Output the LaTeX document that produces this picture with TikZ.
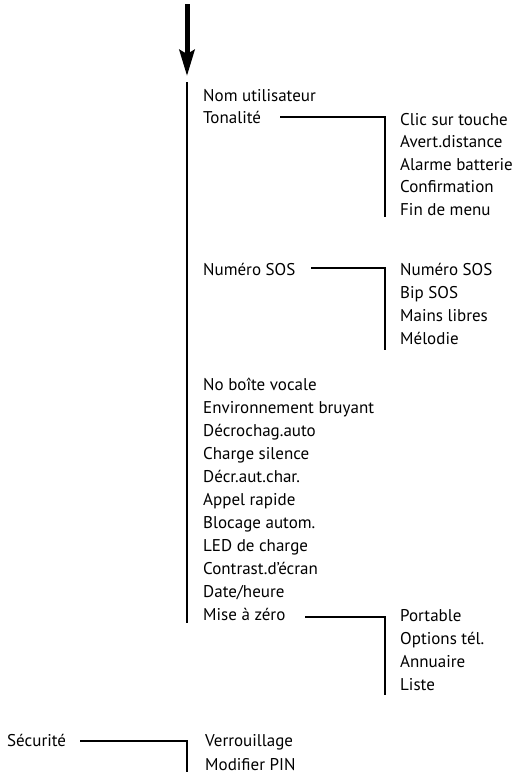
\documentclass[tikz,border=0pt]{standalone}
\usepackage{fontspec}
\setmainfont{PT Sans}
\usetikzlibrary{arrows.meta}
\begin{document}
\begin{tikzpicture}[x=1pt,y=-1pt,
  item/.style={anchor=west,inner sep=0pt,text height=11pt,text depth=3pt,
    font=\fontsize{17}{17}\selectfont},
  conn/.style={line width=1.3pt},
  spine/.style={line width=1.8pt}]
\useasboundingbox (0,0) rectangle (518,780);

% entry arrow
\coordinate (arrTop) at (187,4);
\coordinate (arrTip) at (187,76);
\draw[line width=5pt,-{Stealth[length=26pt,width=15pt,inset=4pt]}] (arrTop) -- (arrTip);

% main menu column
\node[item] (nom)  at (203,97)  {Nom utilisateur};
\node[item] (tona) at (203,119) {Tonalité};
\node[item] (sos)  at (203,271) {Numéro SOS};
\node[item] (vox)  at (203,386) {No boîte vocale};
\node[item] (env)  at (203,409) {Environnement bruyant};
\node[item] (dauto) at (203,432) {Décrochag.auto};
\node[item] (chs)  at (203,455) {Charge silence};
\node[item] (dac)  at (203,478) {Décr.aut.char.};
\node[item] (app)  at (203,501) {Appel rapide};
\node[item] (blo)  at (203,524) {Blocage autom.};
\node[item] (led)  at (203,547) {LED de charge};
\node[item] (con)  at (203,570) {Contrast.d'écran};
\node[item] (dat)  at (203,593) {Date/heure};
\node[item] (mise) at (203,616) {Mise à zéro};

\coordinate (spTop) at (187,82);
\coordinate (spBot) at (187,623);
\draw[spine] (spTop) -- (spBot);

% Tonalité submenu
\node[item] (clic) at (400,121) {Clic sur touche};
\node[item] (avd)  at (400,143.5) {Avert.distance};
\node[item] (alb)  at (400,166) {Alarme batterie};
\node[item] (cnf)  at (400,188.5) {Confirmation};
\node[item] (fin)  at (400,211) {Fin de menu};
\coordinate (tonaA) at (280,117);
\coordinate (tonaB) at (385,217);
\draw[conn] (tonaA) -| (tonaB);

% Numéro SOS submenu
\node[item] (sos2) at (400,271) {Numéro SOS};
\node[item] (bip)  at (400,294) {Bip SOS};
\node[item] (mlib) at (400,317) {Mains libres};
\node[item] (melo) at (400,340) {Mélodie};
\coordinate (sosA) at (311,268);
\coordinate (sosB) at (385,350);
\draw[conn] (sosA) -| (sosB);

% Mise à zéro submenu
\node[item] (port) at (400,617) {Portable};
\node[item] (opt)  at (400,640) {Options tél.};
\node[item] (ann)  at (400,663) {Annuaire};
\node[item] (lst)  at (400,686) {Liste};
\coordinate (miseA) at (305,617);
\coordinate (miseB) at (385,695);
\draw[conn] (miseA) -| (miseB);

% Sécurité submenu
\node[item] (sec)  at (7,742)   {Sécurité};
\node[item] (verr) at (205,742) {Verrouillage};
\node[item] (pin)  at (205,766) {Modifier PIN};
\coordinate (secA) at (80,741);
\coordinate (secB) at (187,772);
\draw[conn] (secA) -| (secB);
\end{tikzpicture}
\end{document}
